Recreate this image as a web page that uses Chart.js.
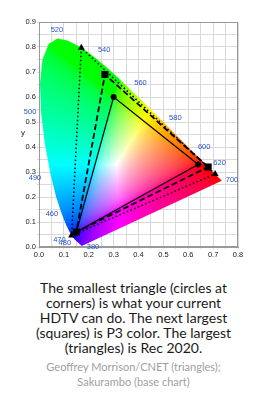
<!DOCTYPE html>
<html>
<head>
<meta charset="utf-8">
<script src="https://cdn.jsdelivr.net/npm/chart.js@4.4.1/dist/chart.umd.min.js"></script>
<style>
  body { margin: 0; background: #fff; width: 267px; }
  #wrap { width: 267px; height: 262px; }
  .caption { margin-top: 18px; text-align: center; font-family: 'Lato', sans-serif; font-size: 14px; line-height: 15px; color: #1a1a1a; }
  .credit { margin-top: 4px; text-align: center; font-family: 'Lato', sans-serif; font-size: 11px; line-height: 15px; color: #a0a0a0; }
</style>
</head>
<body>
<div id="wrap"><canvas id="myChart" width="267" height="262"></canvas></div>
<div class="caption">The smallest triangle (circles at<br>corners) is what your current<br>HDTV can do. The next largest<br>(squares) is P3 color. The largest<br>(triangles) is Rec 2020.</div>
<div class="credit">Geoffrey Morrison/CNET (triangles);<br>Sakurambo (base chart)</div>
<script>
// spectral locus (CIE 1931 xy)
const locusX = [0.1741, 0.1733, 0.1726, 0.1714, 0.1689, 0.1644, 0.1566, 0.1510, 0.1440, 0.1355, 0.1241, 0.1096, 0.0913, 0.0687, 0.0454, 0.0235, 0.0082, 0.0039, 0.0139, 0.0389, 0.0743, 0.1142, 0.1547, 0.1929, 0.2296, 0.2658, 0.3016, 0.3373, 0.3731, 0.4087, 0.4441, 0.4788, 0.5125, 0.5448, 0.5752, 0.6029, 0.6270, 0.6482, 0.6658, 0.6915, 0.7079, 0.7190, 0.7260, 0.7300, 0.7334, 0.7347];
const locusY = [0.0050, 0.0048, 0.0048, 0.0051, 0.0069, 0.0109, 0.0177, 0.0227, 0.0297, 0.0399, 0.0578, 0.0868, 0.1327, 0.2007, 0.2950, 0.4127, 0.5384, 0.6548, 0.7502, 0.8120, 0.8338, 0.8262, 0.8059, 0.7816, 0.7543, 0.7243, 0.6923, 0.6589, 0.6245, 0.5896, 0.5547, 0.5202, 0.4866, 0.4544, 0.4242, 0.3965, 0.3725, 0.3514, 0.3340, 0.3083, 0.2920, 0.2809, 0.2740, 0.2700, 0.2666, 0.2653];

// wavelength labels (nm) and where they sit
const waveLabels = ['520', '540', '560', '580', '600', '620', '700', '500', '490', '460', '470', '480', '380'];
const waveX = [0.072, 0.262, 0.408, 0.548, 0.664, 0.726, 0.776, -0.036, -0.016, 0.052, 0.082, 0.104, 0.217];
const waveY = [0.868, 0.788, 0.656, 0.516, 0.400, 0.336, 0.268, 0.540, 0.276, 0.132, 0.028, 0.016, 0.002];

// gamut corners: R, G, B
const rec709X = [0.64, 0.30, 0.15];
const rec709Y = [0.33, 0.60, 0.06];
const p3X = [0.68, 0.265, 0.15];
const p3Y = [0.32, 0.69, 0.06];
const rec2020X = [0.708, 0.170, 0.131];
const rec2020Y = [0.292, 0.797, 0.046];

function tri(xs, ys) {
  const pts = xs.map((v, i) => ({ x: v, y: ys[i] }));
  pts.push(pts[0]);
  return pts;
}

function xyToRgb(x, y) {
  if (y < 0.001) y = 0.001;
  const X = x / y, Y = 1, Z = (1 - x - y) / y;
  let r = 3.2406 * X - 1.5372 * Y - 0.4986 * Z;
  let g = -0.9689 * X + 1.8758 * Y + 0.0415 * Z;
  let b = 0.0557 * X - 0.2040 * Y + 1.0570 * Z;
  r = Math.max(r, 0); g = Math.max(g, 0); b = Math.max(b, 0);
  const m = Math.max(r, g, b) || 1;
  return [r / m, g / m, b / m].map(c => {
    c = c <= 0.0031308 ? 12.92 * c : 1.055 * Math.pow(c, 1 / 2.4) - 0.055;
    return Math.round(255 * c);
  });
}

// horseshoe painted from chromaticity
const gamutFill = {
  id: 'gamutFill',
  beforeDatasetsDraw(chart) {
    const { ctx, chartArea: a, scales: { x, y } } = chart;
    const w = Math.ceil(a.right - a.left), h = Math.ceil(a.bottom - a.top);
    const off = document.createElement('canvas');
    off.width = w; off.height = h;
    const octx = off.getContext('2d');
    const img = octx.createImageData(w, h);
    for (let j = 0; j < h; j++) {
      const cy = y.getValueForPixel(a.top + j + 0.5);
      for (let i = 0; i < w; i++) {
        const cx = x.getValueForPixel(a.left + i + 0.5);
        const c = xyToRgb(cx, cy);
        const k = (j * w + i) * 4;
        img.data[k] = c[0]; img.data[k + 1] = c[1]; img.data[k + 2] = c[2]; img.data[k + 3] = 255;
      }
    }
    octx.putImageData(img, 0, 0);
    ctx.save();
    ctx.beginPath();
    locusX.forEach((v, k) => {
      const px = x.getPixelForValue(v), py = y.getPixelForValue(locusY[k]);
      if (k) ctx.lineTo(px, py); else ctx.moveTo(px, py);
    });
    ctx.closePath();
    ctx.clip();
    ctx.drawImage(off, a.left, a.top);
    ctx.restore();
  },
  afterDatasetsDraw(chart) {
    const { ctx, chartArea: a, scales: { x, y } } = chart;
    ctx.save();
    // frame
    ctx.strokeStyle = '#999';
    ctx.lineWidth = 1;
    ctx.strokeRect(Math.round(a.left) + 0.5, Math.round(a.top) + 0.5, Math.round(a.right - a.left) - 1, Math.round(a.bottom - a.top) - 1);
    // wavelength labels
    ctx.fillStyle = '#2a52c8';
    ctx.font = '7.5px "Liberation Sans", Arial, sans-serif';
    ctx.textAlign = 'center';
    ctx.textBaseline = 'middle';
    waveLabels.forEach((t, i) => ctx.fillText(t, x.getPixelForValue(waveX[i]), y.getPixelForValue(waveY[i])));
    // axis name
    ctx.fillStyle = '#222';
    ctx.font = '8px "Liberation Sans", Arial, sans-serif';
    ctx.fillText('y', 23, y.getPixelForValue(0.455));
    ctx.restore();
  }
};

const tickCb = v => Math.abs(v * 10 - Math.round(v * 10)) < 1e-6 ? v.toFixed(1) : '';
const tickFont = { family: '"Liberation Sans", Arial, sans-serif', size: 7.5 };

const chart = new Chart(document.getElementById('myChart'), {
  type: 'scatter',
  data: {
    datasets: [
      {
        label: 'Rec 709',
        data: tri(rec709X, rec709Y),
        showLine: true,
        borderColor: '#000',
        borderWidth: 1.2,
        pointStyle: 'circle',
        pointRadius: [3, 3, 3, 0],
        pointBackgroundColor: '#000',
        pointBorderWidth: 0,
      },
      {
        label: 'P3',
        data: tri(p3X, p3Y),
        showLine: true,
        borderColor: '#000',
        borderWidth: 1.8,
        borderDash: [6, 3],
        pointStyle: 'rect',
        pointRadius: [5, 5, 5, 0],
        pointBackgroundColor: '#000',
        pointBorderWidth: 0,
      },
      {
        label: 'Rec 2020',
        data: tri(rec2020X, rec2020Y),
        showLine: true,
        borderColor: '#000',
        borderWidth: 1.5,
        borderDash: [1.5, 2.5],
        pointStyle: 'triangle',
        pointRadius: [4, 4, 4, 0],
        pointBackgroundColor: '#000',
        pointBorderWidth: 0,
      },
    ],
  },
  options: {
    responsive: false,
    animation: false,
    devicePixelRatio: 1,
    layout: { padding: { top: 22, right: 29, left: 0, bottom: 0 } },
    plugins: { legend: { display: false }, tooltip: { enabled: false } },
    scales: {
      x: {
        type: 'linear', min: 0, max: 0.8,
        afterFit: s => { s.height = 15; },
        ticks: { stepSize: 0.05, autoSkip: false, maxRotation: 0, callback: tickCb, color: '#222', font: tickFont, padding: 1 },
        grid: { color: '#d9d9d9', tickLength: 2 },
        border: { color: '#999' },
      },
      y: {
        type: 'linear', min: 0, max: 0.9,
        afterFit: s => { s.width = 39; },
        ticks: { stepSize: 0.05, autoSkip: false, callback: tickCb, color: '#222', font: tickFont, padding: 1 },
        grid: { color: '#d9d9d9', tickLength: 2 },
        border: { color: '#999' },
      },
    },
  },
  plugins: [gamutFill],
});
</script>
</body>
</html>
